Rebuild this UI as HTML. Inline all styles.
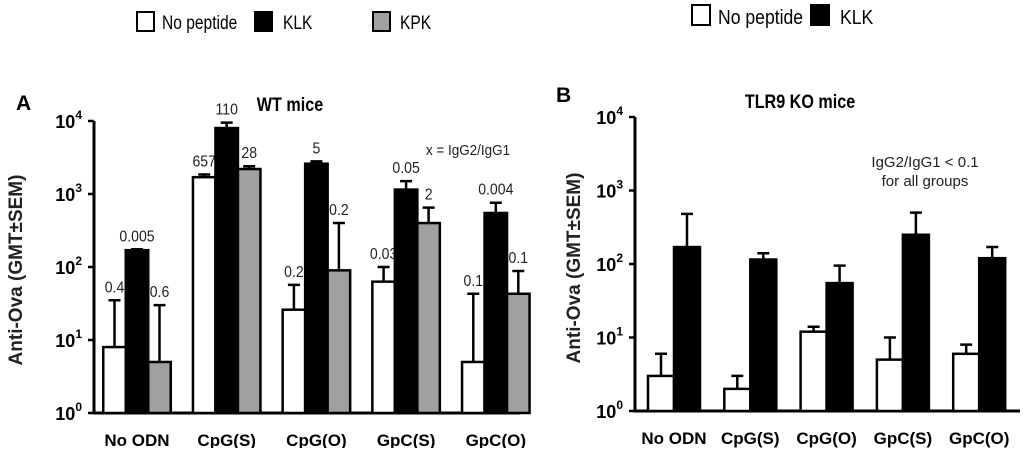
<!DOCTYPE html>
<html><head><meta charset="utf-8">
<style>
body{margin:0;background:#fff;width:1024px;height:448px;overflow:hidden;font-family:"Liberation Sans",sans-serif}
svg text{font-family:"Liberation Sans",sans-serif}
</style></head>
<body>
<svg id="s" width="1024" height="448" viewBox="0 0 1024 448">
  <g>
    <rect x="137" y="12" width="17" height="19" fill="#fff" stroke="#000" stroke-width="2"/>
    <text transform="translate(162,29) scale(0.82,1)" font-size="19">No peptide</text>
    <rect x="255" y="12" width="17" height="19" fill="#000" stroke="#000" stroke-width="2"/>
    <text transform="translate(283,29) scale(0.82,1)" font-size="19">KLK</text>
    <rect x="373" y="12" width="17" height="19" fill="#a0a0a0" stroke="#000" stroke-width="2"/>
    <text transform="translate(400,29) scale(0.82,1)" font-size="19">KPK</text>
  </g>
  <g>
    <rect x="692" y="5" width="18" height="20" fill="#fff" stroke="#000" stroke-width="2"/>
    <text transform="translate(718,24) scale(0.88,1)" font-size="20">No peptide</text>
    <rect x="811" y="5" width="18" height="20" fill="#000" stroke="#000" stroke-width="2"/>
    <text transform="translate(840,24) scale(0.88,1)" font-size="20">KLK</text>
  </g>
  <text x="16" y="110" font-size="21" font-weight="bold">A</text>
  <text transform="translate(290,111) scale(0.85,1)" font-size="19" font-weight="bold" text-anchor="middle">WT mice</text>
  <text x="556" y="102" font-size="21" font-weight="bold">B</text>
  <text transform="translate(800,108) scale(0.85,1)" font-size="19" font-weight="bold" text-anchor="middle">TLR9 KO mice</text>
  <text transform="translate(468,155) scale(0.9,1)" font-size="15" text-anchor="middle" fill="#222">x = IgG2/IgG1</text>
  <text x="925" y="167" font-size="15" text-anchor="middle" fill="#222">IgG2/IgG1 &lt; 0.1</text>
  <text x="925" y="186" font-size="15" text-anchor="middle" fill="#222">for all groups</text>
  <text transform="translate(22,270) rotate(-90)" font-size="19" font-weight="bold" text-anchor="middle" fill="#222">Anti-Ova (GMT±SEM)</text>
  <text transform="translate(580,268) rotate(-90)" font-size="19" font-weight="bold" text-anchor="middle" fill="#222">Anti-Ova (GMT±SEM)</text>
</svg>
<script>
const categories=["No ODN","CpG(S)","CpG(O)","GpC(S)","GpC(O)"];
const aNoPep=[8,1700,26,63,5];
const aNoPepErr=[35,1850,57,100,43];
const aKLK=[170,8000,2600,1150,550];
const aKLKErr=[175,9500,2800,1500,760];
const aKPK=[5,2200,90,400,43];
const aKPKErr=[30,2400,400,650,88];
const aNoPepLbl=["0.4","657","0.2","0.03","0.1"];
const aKLKLbl=["0.005","110","5","0.05","0.004"];
const aKPKLbl=["0.6","28","0.2","2","0.1"];
const bNoPep=[3,2,12,5,6];
const bNoPepErr=[6,3,14,10,8];
const bKLK=[170,115,55,250,120];
const bKLKErr=[480,140,95,500,170];
const tickExp=[0,1,2,3,4];

const svg=document.getElementById('s');
const NS='http://www.w3.org/2000/svg';
function mk(t,a,p){const e=document.createElementNS(NS,t);for(const k in a)e.setAttribute(k,a[k]);(p||svg).appendChild(e);return e;}

function panel(o){
  const g=mk('g',{});
  
  
  const y=v=>o.y0-(Math.log10(v))*(o.y0-o.y4)/4;
  const ax=mk('path',{d:`M${o.x0} ${o.y4}V${o.y0}H${o.x1}`,fill:'none',stroke:'#000','stroke-width':3},g);
  
  
  tickExp.forEach(e=>{
    const ty=o.y0-e*(o.y0-o.y4)/4;
    const tk=mk('line',{x1:o.x0-6,x2:o.x0,y1:ty,y2:ty,stroke:'#000','stroke-width':2.5},g);
    
    
    const t=mk('text',{x:o.x0-12,y:ty+7,'font-size':18,'font-weight':'bold','text-anchor':'end'},g);
    
    
    t.textContent='10';
    const sp=mk('tspan',{dy:-9,'font-size':12},t);sp.textContent=String(e);
  });
  categories.forEach((c,i)=>{
    const cx=o.c0+i*o.step;
    const n=o.series.length;
    const t=mk('text',{x:cx,y:o.y0+33,'font-size':17,'font-weight':'bold','text-anchor':'middle'},g);
    
    
    t.textContent=c;
    o.series.forEach((s,j)=>{
      const bx=cx-n*o.bw/2+j*o.bw;
      const top=y(s.v[i]);
      const et=y(s.e[i]);
      const ex=bx+o.bw/2;
      const el=mk('path',{d:`M${ex} ${top}V${et}M${ex-6} ${et}H${ex+6}`,stroke:'#000','stroke-width':2.5,fill:'none'},g);
      
      
      const r=mk('rect',{x:bx,y:top,width:o.bw,height:o.y0-top,fill:s.fill,stroke:'#000','stroke-width':2.5},g);
      
      
      if(s.l){
        const lt=mk('text',{transform:`translate(${ex},${et-8}) scale(0.88,1)`,'font-size':16,'text-anchor':'middle',fill:'#222'},g);
        
        
        lt.textContent=s.l[i];
      }
    });
  });
}
panel({name:'chart-wt-mice',x0:94,x1:520,y0:413,y4:121,c0:137,step:89.7,bw:22.5,series:[
  {v:aNoPep,e:aNoPepErr,fill:'#fff',l:aNoPepLbl},
  {v:aKLK,e:aKLKErr,fill:'#000',l:aKLKLbl},
  {v:aKPK,e:aKPKErr,fill:'#a0a0a0',l:aKPKLbl}]});
panel({name:'chart-tlr9-ko-mice',x0:635,x1:1020,y0:411,y4:117,c0:674,step:76.3,bw:26,series:[
  {v:bNoPep,e:bNoPepErr,fill:'#fff'},
  {v:bKLK,e:bKLKErr,fill:'#000'}]});
</script>
</body></html>
